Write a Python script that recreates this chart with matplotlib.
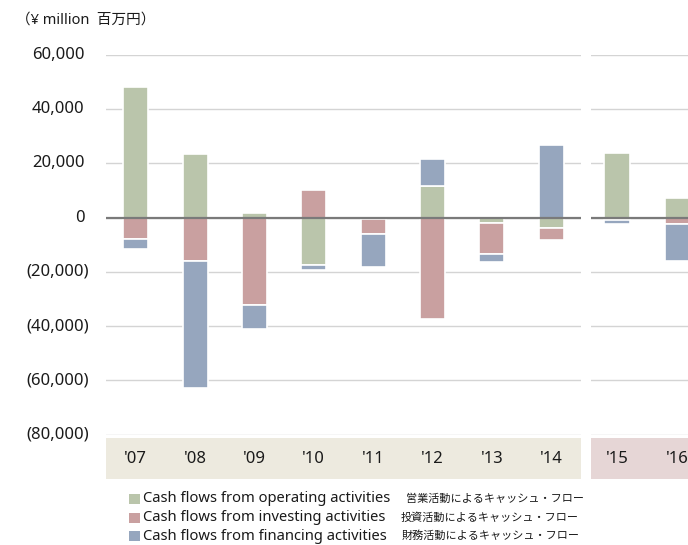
import numpy as np
import matplotlib
matplotlib.use("Agg")
import matplotlib.pyplot as plt
from matplotlib.patches import Rectangle

plt.rcParams['font.family'] = ['Noto Sans', 'Noto Sans CJK JP', 'DejaVu Sans']

# values in ¥ million
years_a = ["'07", "'08", "'09", "'10", "'11", "'12", "'13", "'14"]
years_b = ["'15", "'16"]
operating = [48300, 23600, 1800, -17500, -500, 11700, -2100, -3700, 24000, 7200]
investing = [-7800, -15900, -32300, 10300, -5600, -37300, -11300, -4600, -1000, -2300]
financing = [-3800, -46800, -8800, -1700, -12200, 9800, -3100, 26700, -1200, -13500]

y_ticks = [60000, 40000, 20000, 0, -20000, -40000, -60000, -80000]
y_labels = ["60,000", "40,000", "20,000", "0", "(20,000)", "(40,000)", "(60,000)", "(80,000)"]

series_en = ["Cash flows from operating activities",
             "Cash flows from investing activities",
             "Cash flows from financing activities"]
series_jp = ["営業活動によるキャッシュ・フロー",
             "投資活動によるキャッシュ・フロー",
             "財務活動によるキャッシュ・フロー"]
colors = ["#BAC5AB", "#C9A0A0", "#96A6BE"]

W, H = 688, 545
fig = plt.figure(figsize=(W / 100, H / 100), dpi=100)

ax_bot = 1 - 434.6 / H
ax_h = (434.6 - 55) / H
ax1 = fig.add_axes([106 / W, ax_bot, 475 / W, ax_h])
ax2 = fig.add_axes([591 / W, ax_bot, 121 / W, ax_h])

values = np.array([operating, investing, financing], dtype=float)
n_a = len(years_a)


def draw_panel(ax, idx, labels, xlim, band_color):
    vals = values[:, idx]
    x = np.arange(len(idx))
    pos = np.zeros(len(idx))
    neg = np.zeros(len(idx))
    for k in range(3):
        v = vals[k]
        bottom = np.where(v >= 0, pos, neg)
        ax.bar(x, v, 0.42, bottom=bottom, color=colors[k],
               edgecolor="white", linewidth=1.2, zorder=2)
        pos = pos + np.where(v >= 0, v, 0)
        neg = neg + np.where(v < 0, v, 0)

    ax.set_xlim(*xlim)
    ax.set_ylim(-80000, 60000)
    ax.set_yticks(y_ticks)
    ax.set_yticklabels([])
    ax.grid(axis="y", color="#D4D4D4", linewidth=1.0, zorder=0)
    ax.axhline(0, color="#7A7A7A", linewidth=1.6, zorder=4)
    ax.set_xticks(x, labels, fontsize=12, color="#1A1A1A")
    ax.tick_params(length=0, axis="both", pad=12)
    for s in ax.spines.values():
        s.set_visible(False)
    ax.add_patch(Rectangle((0, -0.117), 1.0, 0.108, transform=ax.transAxes,
                           facecolor=band_color, edgecolor="none",
                           clip_on=False, zorder=0))


draw_panel(ax1, list(range(n_a)), years_a, (-0.5, 7.5), "#EDEADF")
draw_panel(ax2, list(range(n_a, n_a + len(years_b))), years_b, (-0.432, 1.568), "#E6D6D6")

# y labels, digits aligned, closing parenthesis hangs to the right
for val, lab in zip(y_ticks, y_labels):
    xr = (89 - 106) / 475 if lab.startswith("(") else (84.3 - 106) / 475
    ax1.text(xr, val, lab, transform=ax1.get_yaxis_transform(),
             ha="right", va="center", fontsize=12, color="#1A1A1A")

fig.text(16 / W, 1 - 20 / H, "（¥ million  百万円）", ha="left", va="center",
         fontsize=10.5, color="#1A1A1A")

# legend
jp_x = [406, 401, 402]
for i, ly in enumerate([499, 517.5, 536]):
    fig.patches.append(Rectangle((129 / W, 1 - (ly + 5) / H), 11 / W, 10 / H,
                                 transform=fig.transFigure, facecolor=colors[i],
                                 edgecolor="none"))
    fig.text(143 / W, 1 - ly / H, series_en[i], ha="left", va="center",
             fontsize=10.6, color="#1A1A1A")
    fig.text(jp_x[i] / W, 1 - ly / H, series_jp[i], ha="left", va="center",
             fontsize=8, color="#1A1A1A", family="Noto Sans CJK JP")

fig.savefig("out.png", dpi=100)
